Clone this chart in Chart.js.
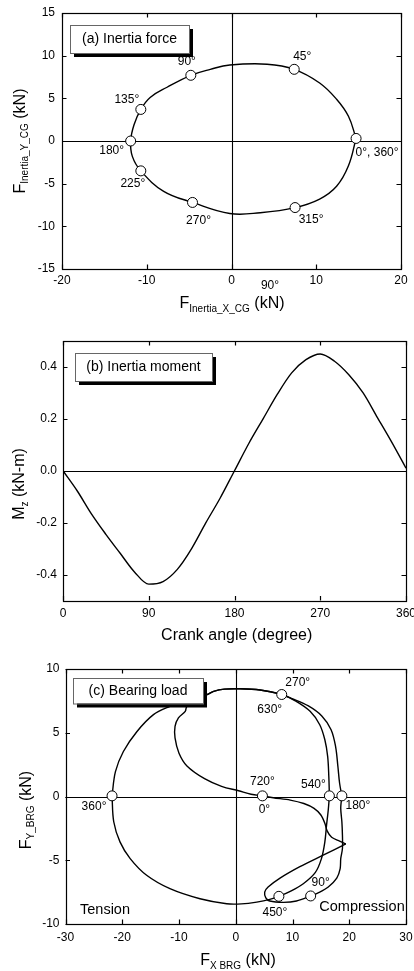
<!DOCTYPE html>
<html><head><meta charset="utf-8">
<script src="https://cdn.jsdelivr.net/npm/chart.js@4.4.1/dist/chart.umd.min.js"></script>
<style>
html,body{margin:0;padding:0;background:#fff;}
#wrap{position:relative;width:414px;height:971px;overflow:hidden;background:#fff;}
canvas{position:absolute;left:0;}
</style></head><body>
<div id="wrap">
<canvas id="ca" width="414" height="320" style="top:0px"></canvas>
<canvas id="cb" width="414" height="325" style="top:320px"></canvas>
<canvas id="cc" width="414" height="326" style="top:645px"></canvas>
</div>
<script>
// ---------- Panel (a): inertia force at connecting-rod CG ----------
const aCurveX = [14.7,13.8,12.4,10.4,7.4,4.2,-0.2,-2.5,-4.8,-7.6,-9.6,-10.7,-11.5,-11.9,-11.7,-10.7,-8.0,-4.6,-0.2,3.4,7.5,10.4,12.4,13.8,14.7];
const aCurveY = [0.3,2.9,4.9,6.8,8.4,9.0,8.9,8.4,7.7,6.3,5.1,3.7,1.9,0.0,-1.8,-3.5,-5.9,-7.2,-8.5,-8.4,-7.8,-6.8,-5.3,-2.9,0.3];
const aMarkX = [14.7,7.4,-4.8,-10.7,-11.9,-10.7,-4.6,7.5];
const aMarkY = [0.3,8.4,7.7,3.7,0.0,-3.5,-7.2,-7.8];
const aMarkLabels = ['0°, 360°','45°','90°','135°','180°','225°','270°','315°'];
const aXTicks = [-20,-10,0,10,20];
const aYTicks = [-15,-10,-5,0,5,10,15];

// ---------- Panel (b): inertia moment vs crank angle ----------
const bAngle  = [0,15,30,45,60,75,90,105,120,135,150,165,180,195,210,225,240,255,270,285,300,315,330,345,360];
const bMoment = [0,-0.078,-0.167,-0.245,-0.318,-0.39,-0.437,-0.427,-0.38,-0.30,-0.20,-0.105,0.0,0.105,0.20,0.295,0.377,0.428,0.45,0.422,0.37,0.30,0.205,0.11,0.01];
const bXTicks = [0,90,180,270,360];
const bYTicks = [-0.4,-0.2,0,0.2,0.4];
const bYTickLabels = ['-0.4','-0.2','0.0','0.2','0.4'];

// ---------- Panel (c): bearing load over 720 deg ----------
// expansion 0 -> peak
const cExp1X = [4.7,6.6,9.6,12.0,13.8,15.0,15.7,16.1,16.9,18.3,19.4];
const cExp1Y = [0.05,-0.1,-0.28,-0.55,-0.93,-1.45,-2.1,-2.7,-3.2,-3.5,-3.72];
// expansion peak -> 180
const cExp2X = [19.4,15.4,11.3,7.8,5.7,5.1,5.3,6.0,8.4,10.7,13.2,14.8,16.3,17.8,18.4,18.5,18.8,18.8,18.7,18.5,18.7];
const cExp2Y = [-3.72,-4.6,-5.5,-6.4,-7.1,-7.5,-7.95,-8.2,-8.3,-8.2,-7.8,-7.5,-7.1,-6.4,-5.65,-4.87,-4.08,-3.03,-1.98,-0.93,0.05];
// exhaust 180 -> 360
const cExhX = [18.7,18.3,18.0,17.6,16.8,15.2,12.8,9.8,8.1,4.3,0.5,-2.0,-3.9,-4.8,-7.0,-9.5,-11.6,-14.5,-17.4,-19.8,-21.2,-21.8];
const cExhY = [0.05,1.04,2.35,3.9,5.24,6.3,7.1,7.7,8.0,8.35,8.45,8.42,8.25,8.04,7.75,7.4,7.07,6.42,5.1,3.53,1.95,0.05];
// intake 360 -> 540
const cIntX = [-21.8,-21.5,-20.4,-18.6,-15.7,-11.6,-6.3,-1.6,1.0,3.7,6.0,7.6,9.6,11.9,14.0,15.1,15.7,16.0,16.3,16.5];
const cIntY = [0.05,-1.98,-3.56,-4.87,-6.18,-7.23,-8.02,-8.41,-8.42,-8.28,-8.07,-7.83,-7.44,-6.84,-5.97,-4.87,-3.56,-2.24,-1.06,0.05];
// compression 540 -> 720
const cCmpX = [16.5,16.4,16.2,15.7,14.8,13.1,10.5,8.1,4.3,0.5,-2.0,-3.9,-4.8,-6.5,-8.6,-8.9,-10.1,-10.7,-10.7,-10.0,-8.6,-5.5,-2.5,0.5,2.7,4.7];
const cCmpY = [0.05,1.56,3.13,4.45,5.63,6.68,7.5,8.0,8.35,8.45,8.42,8.25,8.04,7.6,7.07,6.68,6.16,5.5,4.6,3.4,2.4,1.4,0.8,0.45,0.18,0.05];
const cMarkX = [4.7,13.2,18.7,8.1,-21.8,7.6,16.5];
const cMarkY = [0.05,-7.8,0.05,8.0,0.05,-7.83,0.05];
const cLabelText = ['720°','0°','90°','180°','270°','630°','360°','450°','540°'];
const cLabelAt = [0,0,1,2,3,3,4,5,6];
const cXTicks = [-30,-20,-10,0,10,20,30];
const cYTicks = [-10,-5,0,5,10];

// ---------- styling ----------
const FONT = "'Liberation Sans', Arial, Helvetica, sans-serif";
const aLabelOff = [[21,14],[8,-13],[-4,-14],[-14,-10],[-19,10],[-8,13],[6,18],[16,12]];
const cLabelOff = [[0,-14],[2,14],[10,-13],[16,10],[16,-12],[-12,15],[-18,11],[-4,16],[-16,-11]];

function pts(xs, ys){ return xs.map((v,i)=>({x:v,y:ys[i]})); }

function rich(ctx, parts, cx, cy, rot){
  ctx.save();
  ctx.translate(cx, cy);
  if (rot) ctx.rotate(-Math.PI/2);
  let total = 0;
  parts.forEach(p => { ctx.font = p.s + 'px ' + FONT; p.w = ctx.measureText(p.t).width; total += p.w; });
  let xx = -total/2;
  ctx.textBaseline = 'alphabetic'; ctx.textAlign = 'left'; ctx.fillStyle = '#000';
  parts.forEach(p => { ctx.font = p.s + 'px ' + FONT; ctx.fillText(p.t, xx, p.dy || 0); xx += p.w; });
  ctx.restore();
}

function deco(cfg){
  return {
    id: 'deco' + cfg.id,
    beforeDatasetsDraw(chart){
      const {ctx, chartArea:a, scales:{x, y}} = chart;
      ctx.save(); ctx.strokeStyle = '#000'; ctx.lineWidth = 1.1; ctx.beginPath();
      if (cfg.zeroH){ const py = Math.round(y.getPixelForValue(0)) + 0.5; ctx.moveTo(a.left, py); ctx.lineTo(a.right, py); }
      if (cfg.zeroV){ const px = Math.round(x.getPixelForValue(0)) + 0.5; ctx.moveTo(px, a.top); ctx.lineTo(px, a.bottom); }
      ctx.stroke(); ctx.restore();
    },
    afterDatasetsDraw(chart){
      const {ctx, chartArea:a, scales:{x, y}} = chart;
      ctx.save();
      // frame
      ctx.strokeStyle = '#000'; ctx.lineWidth = 1.2;
      ctx.strokeRect(Math.round(a.left)+0.5, Math.round(a.top)+0.5, Math.round(a.right)-Math.round(a.left), Math.round(a.bottom)-Math.round(a.top));
      // inward ticks on all sides
      const L = 4.5;
      ctx.beginPath();
      cfg.x.ticks.forEach(v => { const px = Math.round(x.getPixelForValue(v))+0.5;
        ctx.moveTo(px, a.bottom); ctx.lineTo(px, a.bottom-L); ctx.moveTo(px, a.top); ctx.lineTo(px, a.top+L); });
      cfg.y.ticks.forEach(v => { const py = Math.round(y.getPixelForValue(v))+0.5;
        ctx.moveTo(a.left, py); ctx.lineTo(a.left+L, py); ctx.moveTo(a.right, py); ctx.lineTo(a.right-L, py); });
      ctx.stroke();
      // marker labels
      ctx.fillStyle = '#000'; ctx.font = '12px ' + FONT; ctx.textAlign = 'center'; ctx.textBaseline = 'middle';
      (cfg.labels || []).forEach(l => {
        ctx.fillText(l.t, x.getPixelForValue(l.x) + l.dx, y.getPixelForValue(l.y) + l.dy);
      });
      // free notes
      (cfg.notes || []).forEach(n => { ctx.font = n.s + 'px ' + FONT; ctx.fillText(n.t, n.x, n.y); });
      // label box with shadow
      const b = cfg.box, w = b.x2 - b.x1, h = b.y2 - b.y1;
      ctx.fillStyle = '#000'; ctx.fillRect(b.x1+4, b.y1+4, w, h);
      ctx.fillStyle = '#fff'; ctx.fillRect(b.x1, b.y1, w, h);
      ctx.strokeStyle = '#666'; ctx.lineWidth = 1; ctx.strokeRect(b.x1+0.5, b.y1+0.5, w, h);
      ctx.fillStyle = '#000'; ctx.font = '14px ' + FONT; ctx.textAlign = 'center'; ctx.textBaseline = 'middle';
      ctx.fillText(b.text, (b.x1+b.x2)/2, (b.y1+b.y2)/2 + 0.5);
      // axis titles
      rich(ctx, cfg.xTitle.parts, cfg.xTitle.x, cfg.xTitle.y, false);
      rich(ctx, cfg.yTitle.parts, cfg.yTitle.x, cfg.yTitle.y, true);
      ctx.restore();
    }
  };
}

function panel(canvasId, cfg){
  const datasets = [];
  datasets.push({data: cfg.marks, showLine:false, pointRadius:5, pointHoverRadius:5,
    pointBackgroundColor:'#fff', pointBorderColor:'#000', pointBorderWidth:1, order:0});
  cfg.lines.forEach(l => datasets.push({data:l.data, showLine:true, pointRadius:0, pointHoverRadius:0,
    borderColor:'#000', borderWidth:1.4, tension:l.tension, cubicInterpolationMode: l.mono ? 'monotone' : 'default',
    fill:false, order:1}));
  const axis = (ax, isX) => ({
    type:'linear', position: isX ? 'bottom' : 'left', min: ax.min, max: ax.max,
    afterBuildTicks: s => { s.ticks = ax.ticks.map(v => ({value:v})); },
    afterFit: s => {
      if (isX) s.height = cfg.h - cfg.area.bottom; else s.width = cfg.area.left;
      s.paddingLeft = 0; s.paddingRight = 0; s.paddingTop = 0; s.paddingBottom = 0;
    },
    ticks:{autoSkip:false, maxRotation:0, minRotation:0, padding: ax.pad, color:'#000',
      font:{family:FONT, size:12}, callback: (v, i) => ax.labels ? ax.labels[i] : String(v)},
    grid:{display:false, drawTicks:false}, border:{display:false}
  });
  new Chart(document.getElementById(canvasId), {
    type:'scatter',
    data:{datasets},
    options:{
      responsive:false, animation:false, devicePixelRatio:1, events:[],
      layout:{padding:{left:0, top:cfg.area.top, right:414 - cfg.area.right, bottom:0}},
      plugins:{legend:{display:false}, tooltip:{enabled:false}, title:{display:false}},
      scales:{x: axis(cfg.x, true), y: axis(cfg.y, false)}
    },
    plugins:[deco(cfg)]
  });
}

// Panel (a)
panel('ca', {
  id:'a', h:320, area:{left:62, right:401, top:13, bottom:269},
  x:{min:-20, max:20, ticks:aXTicks, pad:4},
  y:{min:-15, max:15, ticks:aYTicks, pad:7},
  zeroH:true, zeroV:true,
  lines:[{data:pts(aCurveX, aCurveY), tension:0.4}],
  marks: pts(aMarkX, aMarkY),
  labels: aMarkLabels.map((t,i) => ({t, x:aMarkX[i], y:aMarkY[i], dx:aLabelOff[i][0], dy:aLabelOff[i][1]})),
  notes:[{t:'90°', x:270, y:286, s:12}],
  box:{x1:70, y1:25, x2:189, y2:53, text:'(a) Inertia force'},
  xTitle:{x:232, y:308, parts:[{t:'F', s:16},{t:'Inertia_X_CG', s:10, dy:4},{t:' (kN)', s:16}]},
  yTitle:{x:24.5, y:141, parts:[{t:'F', s:16},{t:'Inertia_Y_CG', s:10, dy:3},{t:' (kN)', s:16}]}
});

// Panel (b)
panel('cb', {
  id:'b', h:325, area:{left:63, right:406, top:21, bottom:280.5},
  x:{min:0, max:360, ticks:bXTicks, pad:6},
  y:{min:-0.5, max:0.5, ticks:bYTicks, labels:bYTickLabels, pad:6},
  zeroH:true, zeroV:false,
  lines:[{data:pts(bAngle, bMoment), tension:0.4, mono:true}],
  marks: [],
  labels: [],
  box:{x1:75, y1:33, x2:212, y2:61, text:'(b) Inertia moment'},
  xTitle:{x:236.7, y:319.5, parts:[{t:'Crank angle (degree)', s:16}]},
  yTitle:{x:24, y:164, parts:[{t:'M', s:16},{t:'z', s:10, dy:4},{t:' (kN-m)', s:16}]}
});

// Panel (c)
panel('cc', {
  id:'c', h:326, area:{left:65.5, right:406, top:24, bottom:279},
  x:{min:-30, max:30, ticks:cXTicks, pad:6.5},
  y:{min:-10, max:10, ticks:cYTicks, pad:6},
  zeroH:true, zeroV:true,
  lines:[
    {data:pts(cExp1X, cExp1Y), tension:0.3},
    {data:pts(cExp2X, cExp2Y), tension:0.3},
    {data:pts(cExhX, cExhY), tension:0.35},
    {data:pts(cIntX, cIntY), tension:0.35},
    {data:pts(cCmpX, cCmpY), tension:0.35}
  ],
  marks: pts(cMarkX, cMarkY),
  labels: cLabelText.map((t,i) => ({t, x:cMarkX[cLabelAt[i]], y:cMarkY[cLabelAt[i]], dx:cLabelOff[i][0], dy:cLabelOff[i][1]})),
  notes:[{t:'Tension', x:105, y:265, s:14.5},{t:'Compression', x:362, y:261.7, s:14.5}],
  box:{x1:73, y1:33, x2:203, y2:58.5, text:'(c) Bearing load'},
  xTitle:{x:238, y:320, parts:[{t:'F', s:16},{t:'X BRG', s:10, dy:4},{t:' (kN)', s:16}]},
  yTitle:{x:31, y:165, parts:[{t:'F', s:16},{t:'Y_BRG', s:10, dy:3},{t:' (kN)', s:16}]}
});
</script>
</body></html>
